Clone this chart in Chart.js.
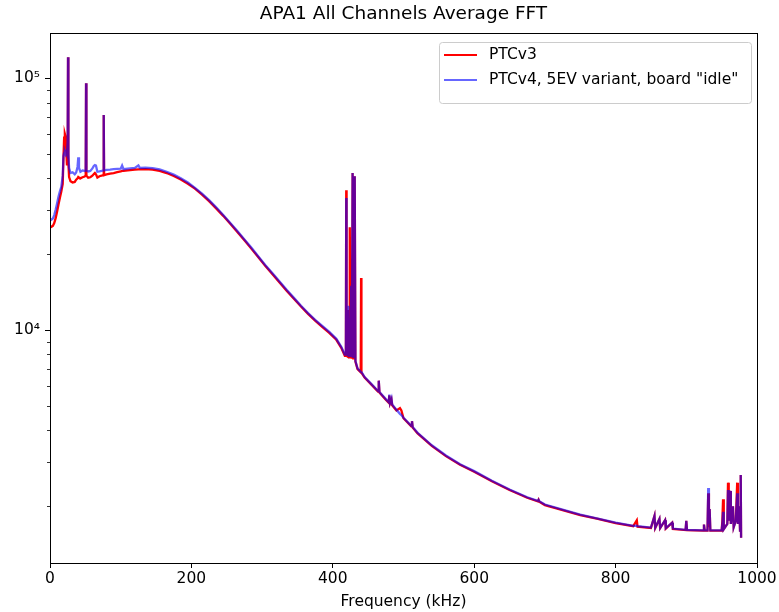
<!DOCTYPE html>
<html lang="en">
<head>
  <meta charset="UTF-8" />
  <title>APA1 All Channels Average FFT</title>
  <script src="https://cdn.jsdelivr.net/npm/chart.js"></script>
  <style>
    html, body { margin: 0; padding: 0; background: #fff; }
    #wrap { width: 779px; height: 612px; }
  </style>
</head>
<body>
  <div id="wrap"><canvas id="fftChart" width="779" height="612"></canvas></div>

  <script>
    // Frequency bins (kHz), shared by both traces
    const freqs = [
      0, 2, 4, 6, 8, 10, 12, 14, 16, 18, 19, 20, 21, 22, 23, 24, 25, 25.5, 26, 27,
      29, 32, 35, 37, 39, 40, 41, 43, 46, 49, 50.5, 51, 51.5, 54, 57, 60, 62, 63.5, 65, 67,
      70, 73, 75.5, 76, 76.5, 80, 85, 90, 95, 100, 102, 104, 110, 120, 125, 127, 135, 145, 155, 165,
      175, 185, 195, 205, 215, 225, 235, 245, 255, 265, 275, 285, 295, 305, 315, 325, 335, 345, 355, 365,
      375, 385, 395, 405, 412, 417, 418.5, 419, 419.5, 421, 422, 423, 424, 425, 426, 427, 428, 429, 431, 432,
      435, 439.5, 440, 440.5, 445, 455, 464, 465, 466, 475, 479, 480, 481, 483, 484, 490, 495, 497, 500, 511,
      512, 513, 520, 540, 560, 580, 600, 625, 650, 675, 690, 691, 692, 700, 725, 750, 775, 800, 825, 830,
      831, 850, 855, 856, 862, 863, 870, 871, 880, 881, 899, 900, 901, 924, 925, 926, 930, 931, 932, 933,
      934, 950, 951, 952, 953, 958, 959, 960, 962, 963, 966, 967, 970, 972, 973, 975, 976, 977, 977.5
    ];

    // PTCv3 average FFT (red)
    const ptcv3 = [
      26000, 25700, 25900, 26600, 27800, 29500, 31500, 33500, 35500, 38000, 48000, 58000, 60000, 58500, 52000, 45000, 50000, 121000, 46000, 40500,
      39000, 38500, 38700, 39500, 40000, 40500, 40300, 40000, 40400, 40700, 41000, 95500, 41000, 40200, 40400, 41000, 41600, 42000, 41500, 40300,
      40800, 41000, 41200, 71300, 41200, 41500, 41800, 42000, 42300, 42600, 42800, 42800, 43000, 43300, 43400, 43400, 43500, 43300, 42800, 42000,
      40900, 39600, 38100, 36400, 34500, 32500, 30400, 28400, 26400, 24500, 22700, 21000, 19400, 17900, 16600, 15400, 14300, 13300, 12400, 11600,
      10900, 10300, 9750, 9150, 8500, 7900, 7900, 35900, 7900, 7850, 12000, 7800, 25600, 7750, 15000, 7700, 42000, 7650, 40800, 7500,
      7000, 6800, 16100, 6780, 6480, 6060, 5700, 6300, 5650, 5290, 5150, 5500, 5120, 5300, 5030, 4800, 4900, 4800, 4470, 4150,
      4350, 4100, 3890, 3470, 3160, 2920, 2740, 2510, 2320, 2160, 2090, 2120, 2085, 2020, 1930, 1845, 1780, 1714, 1667, 1760,
      1660, 1640, 1830, 1638, 1780, 1635, 1760, 1630, 1720, 1625, 1608, 1750, 1607, 1600, 1690, 1600, 1600, 2250, 1650, 1950,
      1600, 1600, 1750, 2130, 1620, 1700, 2480, 1750, 2300, 1700, 2000, 1650, 1750, 2480, 1700, 2000, 1600, 2660, 1500
    ];

    // PTCv4, 5EV variant, board "idle" (blue)
    const ptcv4 = [
      27800, 27400, 27700, 28600, 30000, 31800, 33800, 35500, 37000, 41000, 49000, 50500, 51000, 50000, 51000, 50000, 56000, 121000, 50000, 44000,
      42000, 42300, 41500, 42200, 44500, 48500, 44000, 42500, 43000, 42800, 43000, 95500, 43000, 42600, 42800, 43800, 44800, 45200, 45000, 42500,
      42600, 42800, 43000, 71300, 43000, 43200, 43300, 43500, 43600, 43700, 45000, 43500, 43700, 44000, 45000, 44000, 44100, 43900, 43400, 42500,
      41400, 40000, 38500, 36700, 34800, 32800, 30700, 28600, 26600, 24700, 22900, 21200, 19550, 18050, 16750, 15550, 14420, 13420, 12480, 11680,
      10980, 10380, 9830, 9230, 8580, 8000, 8000, 33400, 8000, 7950, 12500, 7900, 9000, 7850, 15000, 7800, 42000, 7750, 40800, 7550,
      7050, 6830, 6830, 6820, 6510, 6090, 5730, 6300, 5680, 5320, 5180, 5550, 5150, 5350, 5060, 4830, 4650, 4600, 4490, 4170,
      4350, 4120, 3910, 3490, 3180, 2935, 2755, 2525, 2330, 2170, 2100, 2120, 2095, 2030, 1940, 1850, 1785, 1720, 1672, 1675,
      1665, 1645, 1830, 1642, 1780, 1640, 1760, 1635, 1720, 1630, 1612, 1750, 1610, 1604, 1690, 1604, 1604, 2360, 1700, 1950,
      1604, 1604, 1700, 1900, 1620, 1700, 2320, 1750, 2300, 1700, 2000, 1650, 1750, 2250, 1700, 2000, 1600, 2660, 1500
    ];

    const xTicks = [0, 200, 400, 600, 800, 1000];
    const yMajor = [10000, 100000];
    const yMinor = [2000, 3000, 4000, 5000, 6000, 7000, 8000, 9000,
                    20000, 30000, 40000, 50000, 60000, 70000, 80000, 90000];
    const yLabels = { 10000: '10\u2074', 100000: '10\u2075' };

    const seriesNames = ['PTCv3', 'PTCv4, 5EV variant, board "idle"'];
    const seriesColors = ['#ff0000', 'rgba(0, 0, 255, 0.6)'];

    const FONT = "'DejaVu Sans', sans-serif";
    Chart.defaults.font.family = FONT;
    Chart.defaults.color = '#000';

    const toPoints = vals => freqs.map((f, i) => ({ x: f, y: vals[i] }));

    // frame, y ticks, title and legend drawn the matplotlib way
    const mplDecor = {
      id: 'mplDecor',
      afterDatasetsDraw(chart) {
        const { ctx, chartArea: a, scales } = chart;
        const ys = scales.y;
        ctx.save();

        // y tick marks
        ctx.strokeStyle = '#000';
        yMajor.concat(yMinor).forEach(v => {
          const major = yMajor.includes(v);
          const y = Math.round(ys.getPixelForValue(v)) + 0.5;
          ctx.lineWidth = major ? 1 : 0.8;
          ctx.beginPath();
          ctx.moveTo(a.left - (major ? 5 : 3), y);
          ctx.lineTo(a.left, y);
          ctx.stroke();
        });

        // frame
        ctx.lineWidth = 1;
        ctx.strokeRect(Math.round(a.left) + 0.5, Math.round(a.top) + 0.5,
                       Math.round(a.right - a.left), Math.round(a.bottom - a.top));

        // title
        ctx.fillStyle = '#000';
        ctx.font = '18.5px ' + FONT;
        ctx.textAlign = 'center';
        ctx.textBaseline = 'middle';
        ctx.fillText('APA1 All Channels Average FFT', (a.left + a.right) / 2, 14);

        // legend box
        const bx = 439, by = 42, bw = 312, bh = 61;
        ctx.beginPath();
        ctx.roundRect(bx + 0.5, by + 0.5, bw, bh, 3);
        ctx.fillStyle = 'rgba(255,255,255,0.8)';
        ctx.fill();
        ctx.strokeStyle = '#cccccc';
        ctx.stroke();

        ctx.font = '15.5px ' + FONT;
        ctx.textAlign = 'left';
        seriesNames.forEach((name, i) => {
          const y = 55 + i * 25;
          ctx.strokeStyle = seriesColors[i];
          ctx.lineWidth = 2;
          ctx.beginPath();
          ctx.moveTo(444, y);
          ctx.lineTo(477, y);
          ctx.stroke();
          ctx.fillStyle = '#000';
          ctx.fillText(name, 489, y);
        });

        ctx.restore();
      }
    };

    new Chart(document.getElementById('fftChart'), {
      type: 'line',
      data: {
        datasets: [
          {
            label: seriesNames[0],
            data: toPoints(ptcv3),
            borderColor: seriesColors[0],
            borderWidth: 2.3,
            pointRadius: 0,
            tension: 0,
            order: 2
          },
          {
            label: seriesNames[1],
            data: toPoints(ptcv4),
            borderColor: seriesColors[1],
            borderWidth: 2.3,
            pointRadius: 0,
            tension: 0,
            order: 1
          }
        ]
      },
      options: {
        responsive: false,
        animation: false,
        layout: { padding: { top: 33, right: 22, left: 0, bottom: 0 } },
        plugins: {
          legend: { display: false },
          title: { display: false },
          tooltip: { enabled: false }
        },
        scales: {
          x: {
            type: 'linear',
            min: 0,
            max: 1000,
            afterFit: s => { s.height = 49; },
            afterBuildTicks: s => { s.ticks = xTicks.map(v => ({ value: v })); },
            grid: { drawOnChartArea: false, drawTicks: true, tickLength: 5, color: '#000', lineWidth: 1 },
            border: { display: false },
            ticks: {
              padding: 2,
              font: { size: 15.5 },
              color: '#000',
              maxRotation: 0,
              callback: v => String(v)
            },
            title: {
              display: true,
              text: 'Frequency (kHz)',
              font: { size: 15.5 },
              color: '#000',
              padding: { top: 0, bottom: 1 }
            }
          },
          y: {
            type: 'logarithmic',
            min: 1190,
            max: 151000,
            afterFit: s => { s.width = 50; },
            afterBuildTicks: s => {
              s.ticks = yMinor.concat(yMajor).sort((p, q) => p - q).map(v => ({ value: v }));
            },
            grid: { drawOnChartArea: false, drawTicks: true, tickLength: 5, color: 'rgba(0,0,0,0)' },
            border: { display: false },
            ticks: {
              autoSkip: false,
              padding: 5,
              font: { size: 15.5 },
              color: '#000',
              callback: v => yLabels[v] || ''
            }
          }
        }
      },
      plugins: [mplDecor]
    });
  </script>
</body>
</html>
